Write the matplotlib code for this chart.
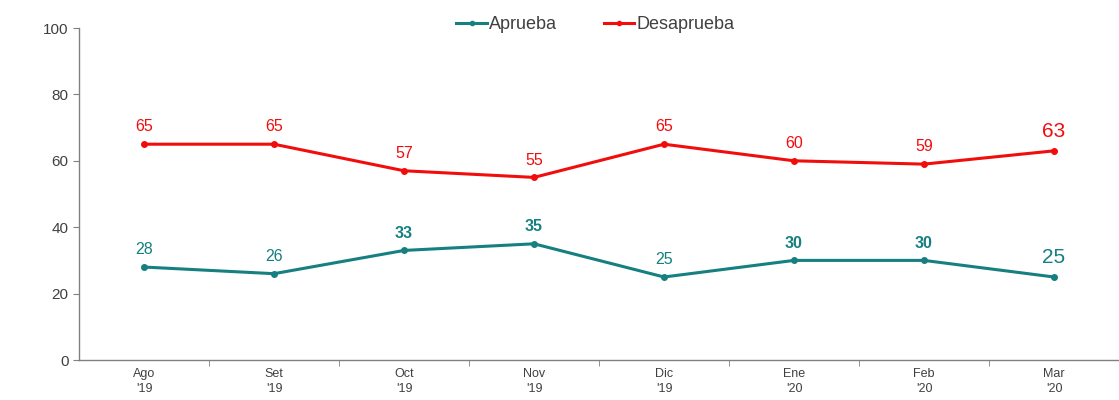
import matplotlib.pyplot as plt
import numpy as np

plt.rcParams['font.family'] = ['Liberation Sans', 'DejaVu Sans']

meses = ["Ago\n'19", "Set\n'19", "Oct\n'19", "Nov\n'19", "Dic\n'19", "Ene\n'20", "Feb\n'20", "Mar\n'20"]
aprueba = [28, 26, 33, 35, 25, 30, 30, 25]
desaprueba = [65, 65, 57, 55, 65, 60, 59, 63]
aprueba_bold = [False, False, True, True, False, True, True, False]

TEAL = '#167f80'
RED = '#f20d0d'
GRAY = '#404040'

fig = plt.figure(figsize=(11.19, 4.0), dpi=100)
ax = fig.add_axes([0.0706, 0.1, 0.9294, 0.83])

x = np.arange(len(meses))

ax.plot(x, aprueba, color=TEAL, linewidth=2.2, marker='o', markersize=4, label='Aprueba')
ax.plot(x, desaprueba, color=RED, linewidth=2.2, marker='o', markersize=4, label='Desaprueba')

# etiquetas de datos
last = len(meses) - 1
for i, v in enumerate(aprueba):
    size = 15 if i == last else 11.5
    weight = 'bold' if aprueba_bold[i] else 'normal'
    ax.annotate(str(v), (x[i], v), xytext=(0, 7), textcoords='offset points',
                ha='center', va='bottom', color=TEAL, fontsize=size, fontweight=weight)

for i, v in enumerate(desaprueba):
    size = 15 if i == last else 11.5
    ax.annotate(str(v), (x[i], v), xytext=(0, 7), textcoords='offset points',
                ha='center', va='bottom', color=RED, fontsize=size)

ax.set_xlim(-0.5, len(meses) - 0.5)
ax.set_ylim(0, 100)
ax.set_yticks([0, 20, 40, 60, 80, 100])

ax.set_xticks(x)
ax.set_xticklabels(meses, fontsize=9, color=GRAY, linespacing=1.3)
ax.tick_params(axis='x', which='major', length=0, pad=6)
ax.set_xticks(np.arange(0.5, len(meses) - 0.5, 1), minor=True)
ax.tick_params(axis='x', which='minor', length=4, color='#808080', direction='out')
ax.tick_params(axis='y', length=4, color='#808080', labelsize=11, labelcolor=GRAY)

for side in ['top', 'right']:
    ax.spines[side].set_visible(False)
for side in ['left', 'bottom']:
    ax.spines[side].set_color('#808080')
    ax.spines[side].set_linewidth(1)

leg = fig.legend(loc='upper center', bbox_to_anchor=(0.532, 1.0), ncol=2, frameon=False,
                 fontsize=13, handlelength=1.7, handletextpad=0.1, columnspacing=2.6,
                 markerscale=0.75)
for t in leg.get_texts():
    t.set_color(GRAY)

fig.savefig('out.png', dpi=100)
